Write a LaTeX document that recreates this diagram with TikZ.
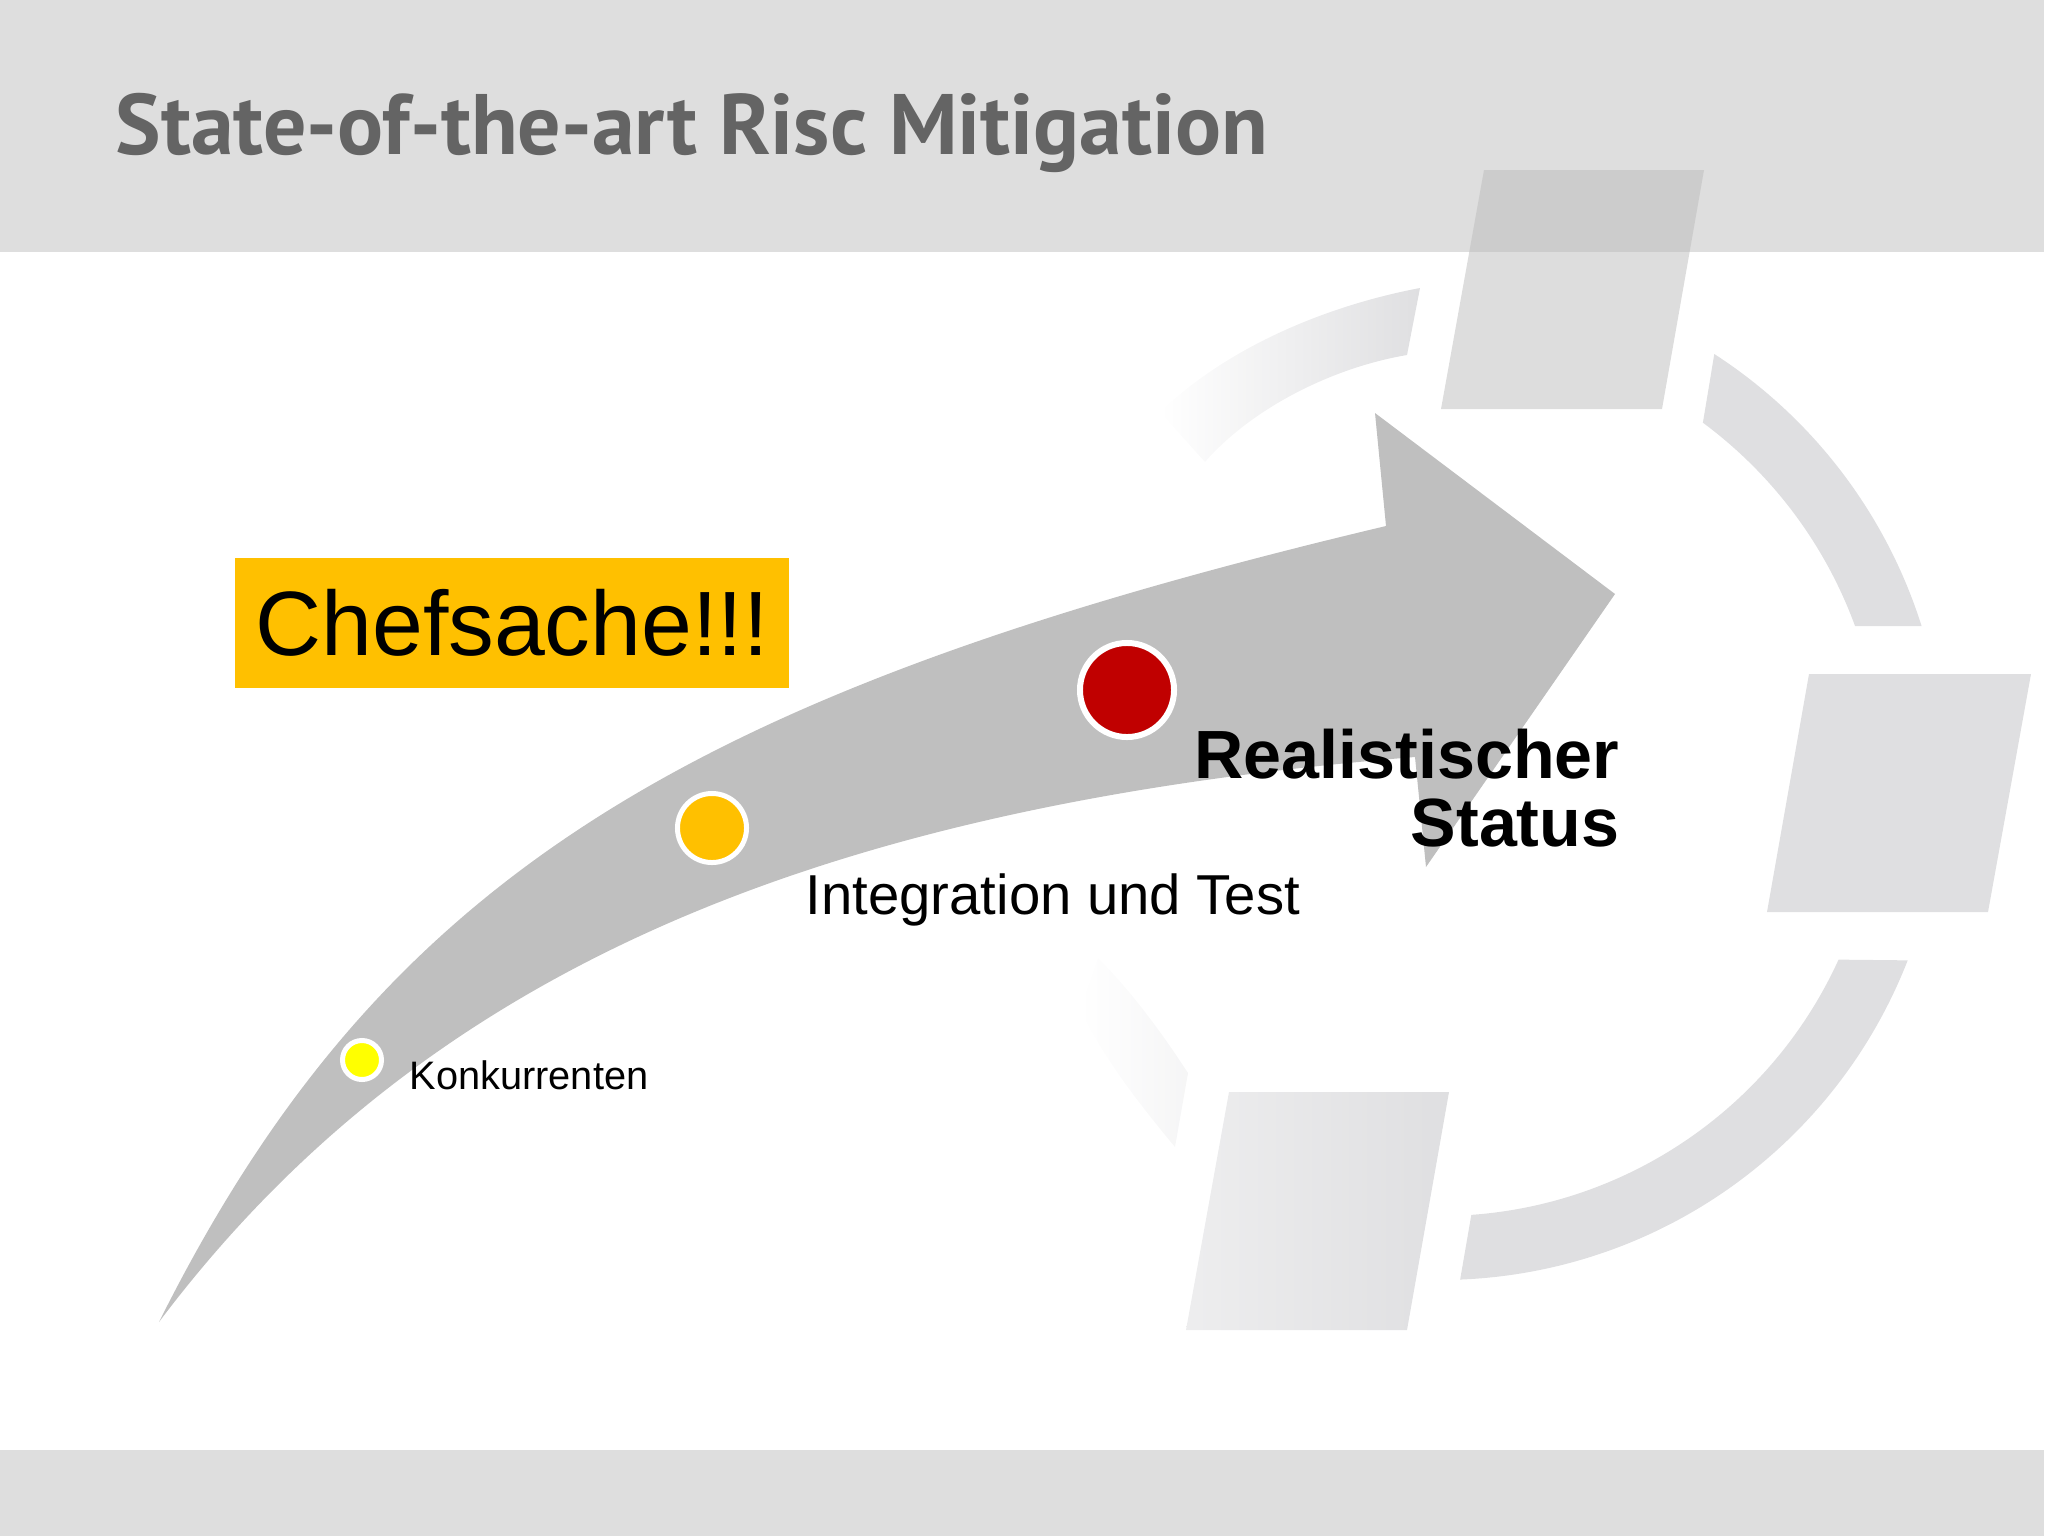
\documentclass[tikz,border=0pt]{standalone}
\usepackage{fontspec}
\setmainfont{Liberation Sans}
\newfontfamily\titlefont{PT Sans}
\usetikzlibrary{positioning}

\definecolor{bandgray}{HTML}{DEDEDE}
\definecolor{ringgray}{HTML}{DFDFE1}
\definecolor{arrowgray}{HTML}{BFBFBF}
\definecolor{titlegray}{HTML}{646464}
\definecolor{chefyellow}{HTML}{FFC000}
\definecolor{dotred}{HTML}{C00000}
\definecolor{dotyellow}{HTML}{FFFF00}

\tikzset{
  dot/.style={circle,draw=white,inner sep=0pt},
  lbl/.style={inner sep=0pt,text=black},
}

\begin{document}
\begin{tikzpicture}[x=0.01cm,y=-0.01cm]
  \useasboundingbox (0,0) rectangle (2048,1536);
  % bands
  \fill[bandgray] (0,0) rectangle (2044,252);
  \fill[bandgray] (0,1450) rectangle (2044,1536);
  % cycle in the background
  \begin{scope}[shift={(1440,778)}]
    \fill[ringgray] (-57.1:505) arc[start angle=-57.1,end angle=-17.5,radius=505]
      -- (-20.1:442) arc[start angle=-20.1,end angle=-53.5,radius=442] -- cycle;
    \fill[ringgray] (21.3:502) arc[start angle=21.3,end angle=87.7,radius=502]
      -- (85.9:438) arc[start angle=85.9,end angle=24.5,radius=438] -- cycle;
  \end{scope}
  \shade[left color=white,right color=ringgray]
    (1420,288) .. controls (1330,305) and (1230,345) .. (1160,412)
    -- (1205,462) .. controls (1250,410) and (1330,368) .. (1407,355) -- cycle;
  \shade[left color=white,right color=ringgray!30!white]
    (1098,958) .. controls (1130,990) and (1160,1030) .. (1188,1073)
    -- (1175,1147) .. controls (1140,1105) and (1105,1060) .. (1080,1010) -- cycle;
  \fill[black!27,opacity=0.485] (1484,170) -- (1704,170) -- (1662,409) -- (1441,409) -- cycle;
  \fill[ringgray] (1809,674) -- (2031,674) -- (1988,912) -- (1767,912) -- cycle;
  \shade[left color=ringgray!55!white,middle color=ringgray,right color=ringgray]
    (1229,1092) -- (1449,1092) -- (1407,1330) -- (1186,1330) -- cycle;
  % the arrow
  \fill[arrowgray] (159,1322) .. controls (380,880) and (683,693) .. (1386,526)
    -- (1375,413) -- (1615,594) -- (1426,867) -- (1415,757)
    .. controls (810,806) and (420,975) .. (159,1322) -- cycle;
  % milestones
  \foreach \name/\x/\y/\d/\w/\col in {konkdot/362/1060/0.39/1.42/dotyellow,
      integdot/712/828/0.69/1.42/chefyellow, realdot/1127/690/0.94/1.7/dotred}
    \node[dot,fill=\col,minimum size=\d cm,line width=\w pt] (\name) at (\x,\y) {};
  % texts
  \node[anchor=base west,inner sep=0pt,text=titlegray,
    font=\titlefont\bfseries\fontsize{24.4}{28}\selectfont] (title) at (115,154)
    {State-of-the-art Risc Mitigation};
  \node[fill=chefyellow,minimum width=157.6pt,minimum height=36.9pt,inner sep=0pt,
    font=\fontsize{26}{30}\selectfont] (chef) at (512,623) {Chefsache!!!};
  \node[lbl,anchor=base east,font=\bfseries\fontsize{19.4}{19.3}\selectfont] (real) at (1620,778) {Realistischer};
  \node[lbl,anchor=base east,font=\bfseries\fontsize{19.4}{19.3}\selectfont] (status) at (1620,846) {Status};
  \node[lbl,anchor=base west,font=\fontsize{16}{19}\selectfont] (integ) at (805,914) {Integration und Test};
  \node[lbl,anchor=base west,font=\fontsize{11.3}{13}\selectfont] (konk) at (409,1089) {Konkurrenten};
\end{tikzpicture}
\end{document}
